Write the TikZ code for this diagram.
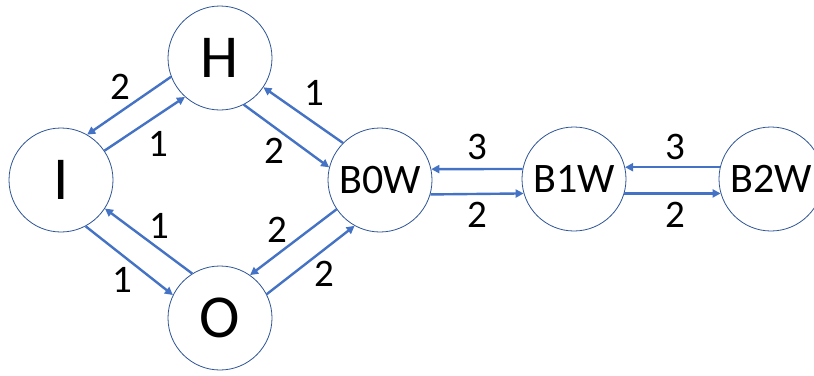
\documentclass[tikz,border=0pt]{standalone}
\usepackage{fontspec}
\setmainfont{Carlito}
\usetikzlibrary{arrows.meta}
\definecolor{ringblue}{HTML}{2F5597}
\definecolor{arrowblue}{HTML}{4472C4}
\tikzset{
  state/.style={circle, draw=ringblue, line width=0.8pt, fill=white,
    minimum size=104pt, inner sep=0pt},
  bigtext/.style={font=\fontsize{61}{61}\selectfont},
  midtext/.style={font=\fontsize{42}{42}\selectfont},
  wt/.style={font=\fontsize{39}{39}\selectfont, inner sep=0pt},
  edge/.style={draw=arrowblue, line width=2.4pt,
    -{Triangle[length=8pt,width=8pt]}},
}
\begin{document}
\begin{tikzpicture}[x=1pt,y=-1pt]
  \useasboundingbox (0,0) rectangle (814,375);
  \clip (0,0) rectangle (814,375);

  % states
  \node[state, bigtext] (I) at (61,180) {I};
  \node[state, bigtext] (H) at (220,58) {H};
  \node[state, bigtext] (O) at (220,318) {O};
  \node[state, midtext] (B0) at (380,180) {B0W};
  \node[state, midtext] (B1) at (574,179) {B1W};
  \node[state, midtext] (B2) at (771,179) {B2W};

  % transitions of the diamond
  \draw[edge] (H.201) -- (I.60);
  \draw[edge] (I.34) -- (H.228);
  \draw[edge] (H.297) -- (B0.166);
  \draw[edge] (B0.135) -- (H.326);
  \draw[edge] (O.122) -- (I.327);
  \draw[edge] (I.298) -- (O.154);
  \draw[edge] (B0.214) -- (O.55);
  \draw[edge] (O.27) -- (B0.241);

  % transitions along the chain
  \draw[edge] (B1.169) -- (B0.12);
  \draw[edge] (B0.344) -- (B1.196);
  \draw[edge] (B2.167) -- (B1.13);
  \draw[edge] (B1.344) -- (B2.196);

  % weights
  \node[wt] (w1) at (120,87) {2};
  \node[wt] (w2) at (158,144) {1};
  \node[wt] (w3) at (274,151) {2};
  \node[wt] (w4) at (314,93) {1};
  \node[wt] (w5) at (159,226) {1};
  \node[wt] (w6) at (122,280) {1};
  \node[wt] (w7) at (277,230) {2};
  \node[wt] (w8) at (324,274) {2};
  \node[wt] (w9) at (477,147) {3};
  \node[wt] (w10) at (477,215) {2};
  \node[wt] (w11) at (675,147) {3};
  \node[wt] (w12) at (675,215) {2};
\end{tikzpicture}
\end{document}
